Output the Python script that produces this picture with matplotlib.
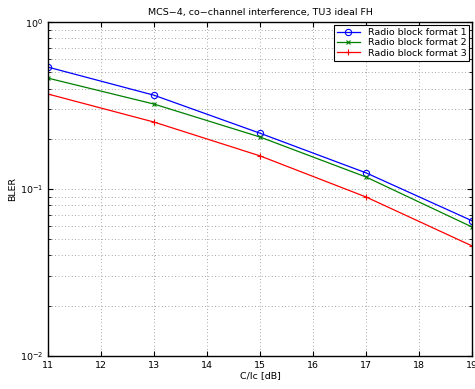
import matplotlib
matplotlib.use("Agg")
import matplotlib.pyplot as plt

# C/Ic values and BLER per radio block format
cir = [11, 13, 15, 17, 19]
bler_fmt1 = [0.538, 0.365, 0.216, 0.125, 0.0645]
bler_fmt2 = [0.462, 0.323, 0.205, 0.118, 0.0592]
bler_fmt3 = [0.371, 0.252, 0.158, 0.0896, 0.0456]
labels = ["Radio block format 1", "Radio block format 2", "Radio block format 3"]

plt.rcParams["font.family"] = "DejaVu Sans"
plt.rcParams["font.size"] = 6.8

fig = plt.figure(figsize=(4.75, 3.89), dpi=100)
ax = fig.add_axes([0.101, 0.085, 0.893, 0.858])

ax.semilogy(cir, bler_fmt1, "-o", color="blue", lw=0.9, ms=4.5, mfc="none", mew=0.8, label=labels[0])
ax.semilogy(cir, bler_fmt2, "-x", color="green", lw=0.9, ms=3.5, mew=0.8, label=labels[1])
ax.semilogy(cir, bler_fmt3, "-+", color="red", lw=0.9, ms=5, mew=0.8, label=labels[2])

ax.set_xlim(11, 19)
ax.set_ylim(1e-2, 1e0)
ax.set_xticks(range(11, 20))
ax.grid(True, which="both", linestyle=(0, (1, 3)), color="#888888", lw=0.6)
ax.tick_params(which="both", direction="in", top=True, right=True)
for s in ax.spines.values():
    s.set_linewidth(1.0)

ax.set_title("MCS\u22124, co\u2212channel interference, TU3 ideal FH", fontsize=6.8, pad=5)
ax.set_xlabel("C/Ic [dB]", labelpad=1)
ax.set_ylabel("BLER", labelpad=2)

leg = ax.legend(loc="upper right", fancybox=False, edgecolor="black", framealpha=1,
                borderpad=0.3, handlelength=2.5, labelspacing=0.15, borderaxespad=0.3)
leg.get_frame().set_linewidth(0.8)

fig.savefig("out.png", dpi=100)
